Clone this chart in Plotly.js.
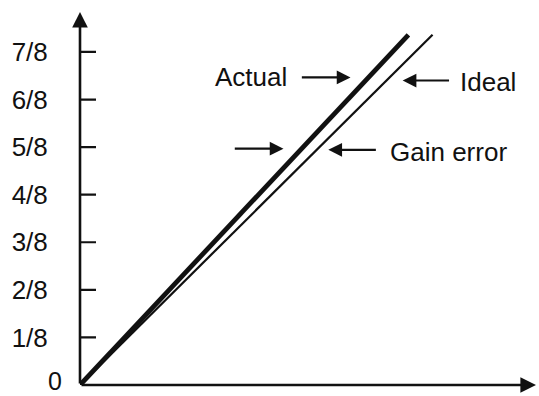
<!DOCTYPE html>
<html>
<head>
<meta charset="utf-8">
<script src="https://cdn.plot.ly/plotly-3.0.1.min.js"></script>
<style>html,body{margin:0;padding:0;background:#fff;}#chart{width:539px;height:396px;}</style>
</head>
<body>
<div id="chart"></div>
<script>
// Data
var tickValues = [1/8, 2/8, 3/8, 4/8, 5/8, 6/8, 7/8];
var tickLabels = ["1/8", "2/8", "3/8", "4/8", "5/8", "6/8", "7/8"];
var idealX = [0, 0.92];
var idealY = [0, 0.92];
var actualX = [0, 0.857];
var actualY = [0, 0.92];
var labelTexts = ["Actual", "Ideal", "Gain error"];

var X_MAX = 1.19, Y_MAX = 0.98;
var FONT = "Liberation Sans, Arial, sans-serif";
var INK = "#111";

var traces = [
  {x: idealX, y: idealY, mode: "lines", line: {color: INK, width: 2.2}, hoverinfo: "skip", name: "Ideal"},
  {x: actualX, y: actualY, mode: "lines", line: {color: INK, width: 4.8}, hoverinfo: "skip", name: "Actual"}
];

// tick marks crossing the y axis
var shapes = tickValues.map(function (v) {
  return {type: "line", xref: "x", yref: "y", xsizemode: "pixel", xanchor: 0,
          x0: -20, x1: 16, y0: v, y1: v, line: {color: INK, width: 2.2}};
});

function arrow(x, y, ax, ay, w, s) {
  return {x: x, y: y, ax: ax, ay: ay, axref: "x", ayref: "y", xref: "x", yref: "y",
          text: "", showarrow: true, arrowhead: 2, arrowsize: s || 1.25, arrowwidth: w || 2.2,
          arrowcolor: INK, standoff: 0, startstandoff: 0};
}
function label(t, x, y, anchor) {
  return {x: x, y: y, xref: "x", yref: "y", text: t, showarrow: false,
          xanchor: anchor, yanchor: "middle", font: {family: FONT, size: 26, color: INK}};
}

var annotations = [
  // axes with arrowheads
  arrow(0, Y_MAX, 0, 0, 2.6, 1.2),
  arrow(X_MAX, 0, 0, 0, 2.6, 1.2),
  // origin label
  {x: 0, y: 0, xref: "x", yref: "y", text: "0", showarrow: false, xanchor: "right",
   yanchor: "middle", xshift: -17, yshift: 4, borderpad: 0,
   font: {family: FONT, size: 25, color: INK}},
  // pointer arrows
  arrow(0.706, 0.808, 0.575, 0.808),
  arrow(0.842, 0.80, 0.967, 0.80),
  arrow(0.531, 0.621, 0.400, 0.621),
  arrow(0.648, 0.618, 0.776, 0.618),
  // labels
  label(labelTexts[0], 0.545, 0.808, "right"),
  label(labelTexts[1], 0.986, 0.795, "left"),
  label(labelTexts[2], 0.805, 0.612, "left")
];

var layout = {
  width: 539, height: 396,
  margin: {l: 80, r: 3, t: 12, b: 11, pad: 0},
  paper_bgcolor: "#fff", plot_bgcolor: "#fff",
  showlegend: false,
  xaxis: {range: [0, X_MAX], showgrid: false, zeroline: false, showline: false,
          showticklabels: false, ticks: "", fixedrange: true},
  yaxis: {range: [0, Y_MAX], showgrid: false, zeroline: false, showline: false,
          tickmode: "array", tickvals: tickValues, ticktext: tickLabels,
          ticks: "outside", ticklen: 26, tickwidth: 1, tickcolor: "rgba(0,0,0,0)",
          tickfont: {family: FONT, size: 26, color: INK}, fixedrange: true},
  shapes: shapes,
  annotations: annotations
};

Plotly.newPlot("chart", traces, layout, {displayModeBar: false, staticPlot: true});
</script>
</body>
</html>
